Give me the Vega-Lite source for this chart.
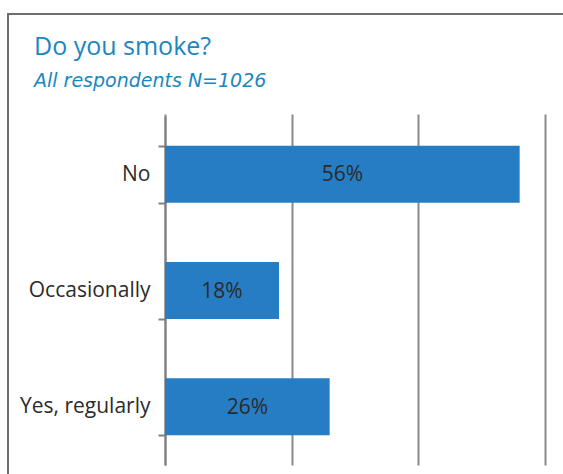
{
  "$schema": "https://vega.github.io/schema/vega-lite/v6.json",
  "autosize": "none",
  "padding": {"left": 8, "top": 14, "right": 0, "bottom": 0},
  "width": 600,
  "height": 520,
  "background": "white",
  "title": {
    "text": "Do you smoke?",
    "subtitle": "All respondents N=1026",
    "orient": "top",
    "anchor": "start",
    "frame": "group",
    "offset": -88,
    "dx": 26,
    "font": "Open Sans",
    "fontSize": 25,
    "fontWeight": "normal",
    "color": "#1a87c1",
    "subtitleFont": "DejaVu Sans",
    "subtitleFontSize": 19,
    "subtitleFontStyle": "italic",
    "subtitleColor": "#1a87c1",
    "subtitlePadding": 12
  },
  "data": {
    "values": [
      {"answer": "No", "pct": 0.56},
      {"answer": "Occasionally", "pct": 0.18},
      {"answer": "Yes, regularly", "pct": 0.26}
    ]
  },
  "encoding": {
    "y": {
      "field": "answer",
      "type": "nominal",
      "sort": null,
      "title": null,
      "scale": {"range": [102, 451], "paddingInner": 0.51, "paddingOuter": 0.255},
      "axis": {
        "orient": "left",
        "offset": -157,
        "domainColor": "#808080",
        "domainWidth": 2,
        "tickColor": "#808080",
        "tickWidth": 2,
        "tickSize": 7,
        "tickBand": "extent",
        "labelFont": "Open Sans",
        "labelFontSize": 21,
        "labelColor": "#2b2b2b",
        "labelPadding": 8,
        "grid": false
      }
    }
  },
  "layer": [
    {
      "mark": {"type": "bar", "color": "#277dc3"},
      "encoding": {
        "x": {
          "field": "pct",
          "type": "quantitative",
          "title": null,
          "scale": {"domain": [0, 0.6], "range": [157, 537], "nice": false, "zero": true},
          "axis": {
            "orient": "bottom",
            "offset": -69,
            "values": [0, 0.2, 0.4, 0.6],
            "domain": false,
            "labels": false,
            "grid": false,
            "ticks": true,
            "tickSize": -351,
            "tickColor": "#8a8a8a",
            "tickWidth": 2
          }
        }
      }
    },
    {
      "mark": {"type": "text", "font": "Open Sans", "fontSize": 21, "color": "#2b2b2b", "baseline": "middle", "align": "center", "dy": 1},
      "encoding": {
        "x": {
          "field": "pct",
          "type": "quantitative",
          "scale": {"domain": [0, 1.2], "range": [157, 537], "nice": false, "zero": true},
          "axis": null
        },
        "text": {"field": "pct", "type": "quantitative", "format": ".0%"}
      }
    }
  ],
  "resolve": {"scale": {"x": "independent"}, "axis": {"x": "independent"}},
  "config": {
    "view": {"stroke": "#6e6e6e", "strokeWidth": 2}
  }
}
